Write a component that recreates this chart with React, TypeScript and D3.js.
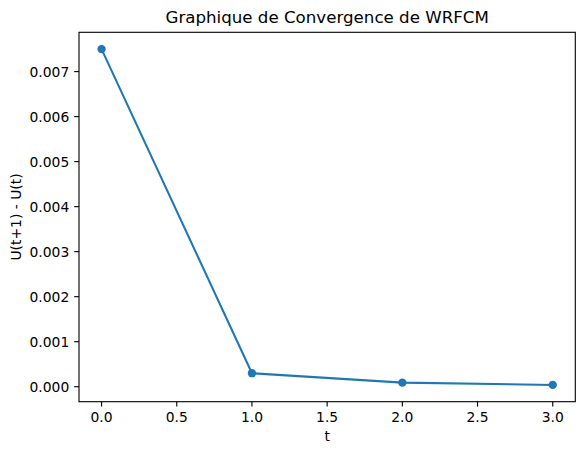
import React from "react";
import * as d3 from "d3";

const tValues = [0, 1, 2, 3];
const diffValues = [0.0075, 0.0003, 0.00009, 0.00004];
const xTicks = [0, 0.5, 1, 1.5, 2, 2.5, 3];
const yTicks = [0, 0.001, 0.002, 0.003, 0.004, 0.005, 0.006, 0.007];
const titleText = "Graphique de Convergence de WRFCM";
const xLabel = "t";
const yLabel = "U(t+1) - U(t)";

const W = 584, H = 455;
const left = 79, right = 575.3, top = 32.3, bottom = 401.7;
const color = "#1f77b4";
const font = "DejaVu Sans, sans-serif";

export default function App() {
  const xMin = d3.min(tValues)!, xMax = d3.max(tValues)!;
  const yMin = d3.min(diffValues)!, yMax = d3.max(diffValues)!;
  const xm = (xMax - xMin) * 0.05, ym = (yMax - yMin) * 0.05;
  const x = d3.scaleLinear().domain([xMin - xm, xMax + xm]).range([left, right]);
  const y = d3.scaleLinear().domain([yMin - ym, yMax + ym]).range([bottom, top]);
  const line = d3.line<number>().x((_, i) => x(tValues[i])).y((d) => y(d));
  const tick = 4.86;
  return (
    <svg width={W} height={H} style={{ position: "absolute", left: 0, top: 0, background: "#fff" }} fontFamily={font}>
      <rect x={0} y={0} width={W} height={H} fill="#fff" />
      <path d={line(diffValues) || ""} fill="none" stroke={color} strokeWidth={2.08} strokeLinejoin="round" strokeLinecap="square" />
      {diffValues.map((d, i) => (
        <circle key={i} cx={x(tValues[i])} cy={y(d)} r={4.17} fill={color} />
      ))}
      <rect x={left} y={top} width={right - left} height={bottom - top} fill="none" stroke="#000" strokeWidth={1.11} />
      {xTicks.map((t) => (
        <g key={t}>
          <line x1={x(t)} x2={x(t)} y1={bottom} y2={bottom + tick} stroke="#000" strokeWidth={1.11} />
          <text x={x(t)} y={422} textAnchor="middle" fontSize={13.89} fill="#000">{t.toFixed(1)}</text>
        </g>
      ))}
      {yTicks.map((t) => (
        <g key={t}>
          <line x1={left - tick} x2={left} y1={y(t)} y2={y(t)} stroke="#000" strokeWidth={1.11} />
          <text x={left - 2 * tick} y={y(t)} dy="0.36em" textAnchor="end" fontSize={13.89} fill="#000">{t.toFixed(3)}</text>
        </g>
      ))}
      <text x={(left + right) / 2} y={22.5} textAnchor="middle" fontSize={16.67} fill="#000">{titleText}</text>
      <text x={(left + right) / 2} y={441} textAnchor="middle" fontSize={13.89} fill="#000">{xLabel}</text>
      <text transform={`translate(21,${(top + bottom) / 2}) rotate(-90)`} textAnchor="middle" fontSize={13.89} fill="#000">{yLabel}</text>
    </svg>
  );
}
